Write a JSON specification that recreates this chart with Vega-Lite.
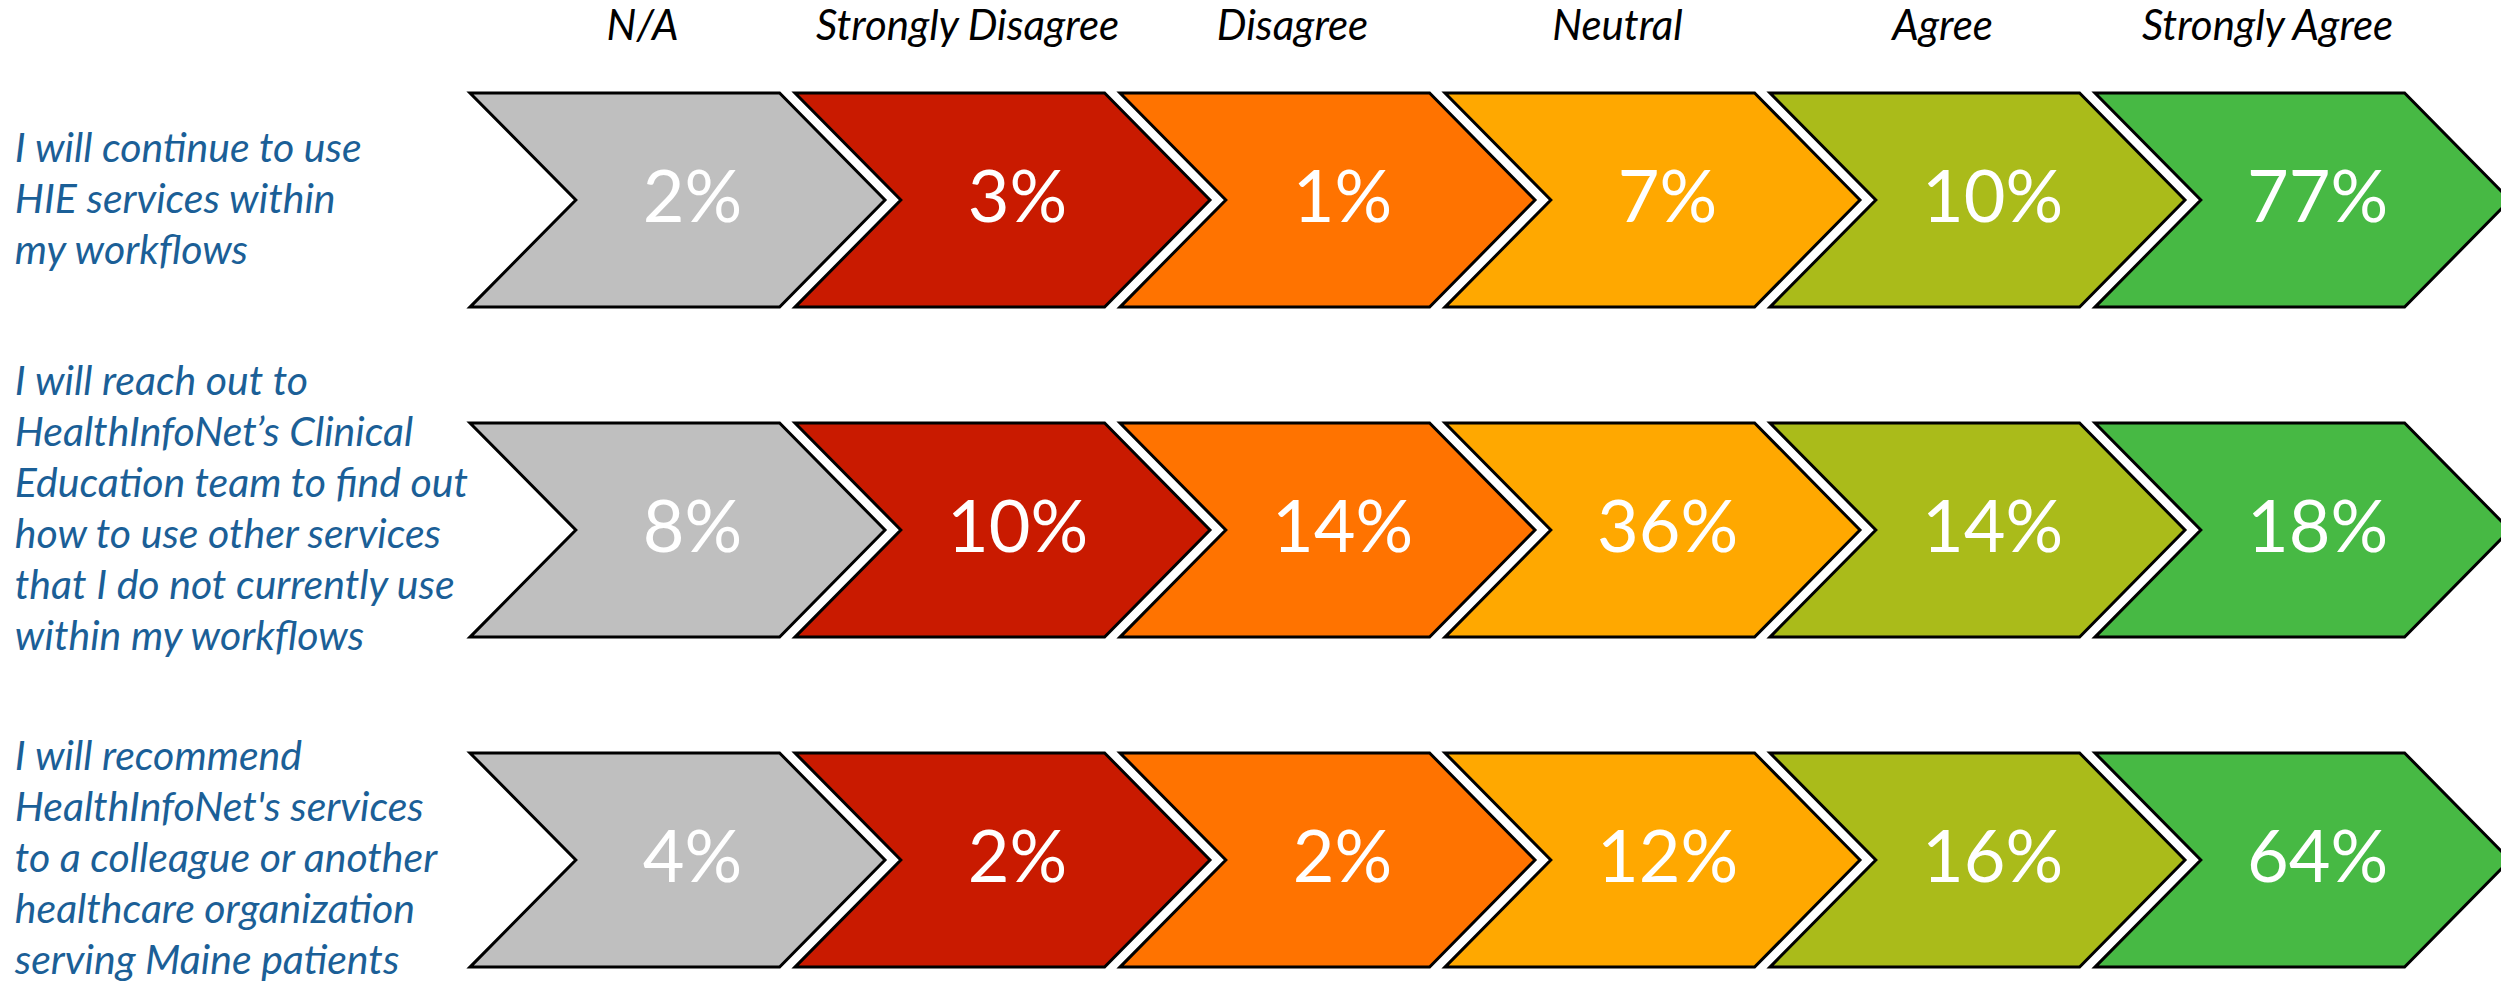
{
  "$schema": "https://vega.github.io/schema/vega-lite/v6.json",
  "width": 2501,
  "height": 982,
  "autosize": {"type": "none"},
  "padding": 0,
  "background": "white",
  "config": {"view": {"stroke": null}},
  "datasets": {
    "cells": [
      {"row": 1, "col": 0, "resp": "N/A", "pct": "2%"},
      {"row": 1, "col": 1, "resp": "Strongly Disagree", "pct": "3%"},
      {"row": 1, "col": 2, "resp": "Disagree", "pct": "1%"},
      {"row": 1, "col": 3, "resp": "Neutral", "pct": "7%"},
      {"row": 1, "col": 4, "resp": "Agree", "pct": "10%"},
      {"row": 1, "col": 5, "resp": "Strongly Agree", "pct": "77%"},
      {"row": 2, "col": 0, "resp": "N/A", "pct": "8%"},
      {"row": 2, "col": 1, "resp": "Strongly Disagree", "pct": "10%"},
      {"row": 2, "col": 2, "resp": "Disagree", "pct": "14%"},
      {"row": 2, "col": 3, "resp": "Neutral", "pct": "36%"},
      {"row": 2, "col": 4, "resp": "Agree", "pct": "14%"},
      {"row": 2, "col": 5, "resp": "Strongly Agree", "pct": "18%"},
      {"row": 3, "col": 0, "resp": "N/A", "pct": "4%"},
      {"row": 3, "col": 1, "resp": "Strongly Disagree", "pct": "2%"},
      {"row": 3, "col": 2, "resp": "Disagree", "pct": "2%"},
      {"row": 3, "col": 3, "resp": "Neutral", "pct": "12%"},
      {"row": 3, "col": 4, "resp": "Agree", "pct": "16%"},
      {"row": 3, "col": 5, "resp": "Strongly Agree", "pct": "64%"}
    ],
    "rows": [
      {"row": 1, "label": "I will continue to use\nHIE services within\nmy workflows"},
      {"row": 2, "label": "I will reach out to\nHealthInfoNet’s Clinical\nEducation team to find out\nhow to use other services\nthat I do not currently use\nwithin my workflows"},
      {"row": 3, "label": "I will recommend\nHealthInfoNet's services\nto a colleague or another\nhealthcare organization\nserving Maine patients"}
    ],
    "headers": [
      {"col": 0, "resp": "N/A"},
      {"col": 1, "resp": "Strongly Disagree"},
      {"col": 2, "resp": "Disagree"},
      {"col": 3, "resp": "Neutral"},
      {"col": 4, "resp": "Agree"},
      {"col": 5, "resp": "Strongly Agree"}
    ]
  },
  "layer": [
    {
      "data": {"name": "cells"},
      "mark": {
        "type": "point",
        "shape": "M -1 -0.516 L 0.492 -0.516 L 1 0 L 0.492 0.516 L -1 0.516 L -0.49 0 Z",
        "size": 172225,
        "filled": true,
        "opacity": 1,
        "stroke": "black",
        "strokeWidth": 3,
        "strokeJoin": "miter"
      },
      "encoding": {
        "x": {"field": "col", "type": "quantitative", "scale": {"domain": [-2.0846, 5.6108], "nice": false, "zero": false}, "axis": null},
        "y": {"field": "row", "type": "quantitative", "scale": {"domain": [0.3939, 3.3697], "reverse": true, "nice": false, "zero": false}, "axis": null},
        "fill": {
          "field": "resp",
          "type": "nominal",
          "scale": {
            "domain": ["N/A", "Strongly Disagree", "Disagree", "Neutral", "Agree", "Strongly Agree"],
            "range": ["#BFBFBF", "#C91A00", "#FF7300", "#FFA800", "#AABB1A", "#47B944"]
          },
          "legend": null
        }
      }
    },
    {
      "data": {"name": "cells"},
      "mark": {"type": "text", "font": "Lato", "fontSize": 72, "color": "white", "dx": 15, "baseline": "middle", "align": "center"},
      "encoding": {
        "x": {"field": "col", "type": "quantitative", "scale": {"domain": [-2.0846, 5.6108], "nice": false, "zero": false}, "axis": null},
        "y": {"field": "row", "type": "quantitative", "scale": {"domain": [0.3939, 3.3697], "reverse": true, "nice": false, "zero": false}, "axis": null},
        "text": {"field": "pct"}
      }
    },
    {
      "data": {"name": "headers"},
      "mark": {"type": "text", "font": "Lato", "fontStyle": "italic", "fontSize": 42, "color": "black", "dx": -35, "baseline": "middle", "align": "center"},
      "encoding": {
        "x": {"field": "col", "type": "quantitative", "scale": {"domain": [-2.0846, 5.6108], "nice": false, "zero": false}, "axis": null},
        "y": {"datum": 0.476, "type": "quantitative", "scale": {"domain": [0.3939, 3.3697], "reverse": true, "nice": false, "zero": false}, "axis": null},
        "text": {"field": "resp"}
      }
    },
    {
      "data": {"name": "rows"},
      "transform": [{"filter": "datum.row == 1"}],
      "mark": {"type": "text", "font": "Lato", "fontStyle": "italic", "fontSize": 41, "color": "#1B5F97", "lineBreak": "\n", "lineHeight": 51, "baseline": "middle", "align": "left"},
      "encoding": {
        "x": {"datum": -2.039, "type": "quantitative", "scale": {"domain": [-2.0846, 5.6108], "nice": false, "zero": false}, "axis": null},
        "y": {"datum": 0.848, "type": "quantitative", "scale": {"domain": [0.3939, 3.3697], "reverse": true, "nice": false, "zero": false}, "axis": null},
        "text": {"field": "label"}
      }
    },
    {
      "data": {"name": "rows"},
      "transform": [{"filter": "datum.row == 2"}],
      "mark": {"type": "text", "font": "Lato", "fontStyle": "italic", "fontSize": 41, "color": "#1B5F97", "lineBreak": "\n", "lineHeight": 51, "baseline": "middle", "align": "left"},
      "encoding": {
        "x": {"datum": -2.039, "type": "quantitative", "scale": {"domain": [-2.0846, 5.6108], "nice": false, "zero": false}, "axis": null},
        "y": {"datum": 1.556, "type": "quantitative", "scale": {"domain": [0.3939, 3.3697], "reverse": true, "nice": false, "zero": false}, "axis": null},
        "text": {"field": "label"}
      }
    },
    {
      "data": {"name": "rows"},
      "transform": [{"filter": "datum.row == 3"}],
      "mark": {"type": "text", "font": "Lato", "fontStyle": "italic", "fontSize": 41, "color": "#1B5F97", "lineBreak": "\n", "lineHeight": 51, "baseline": "middle", "align": "left"},
      "encoding": {
        "x": {"datum": -2.039, "type": "quantitative", "scale": {"domain": [-2.0846, 5.6108], "nice": false, "zero": false}, "axis": null},
        "y": {"datum": 2.691, "type": "quantitative", "scale": {"domain": [0.3939, 3.3697], "reverse": true, "nice": false, "zero": false}, "axis": null},
        "text": {"field": "label"}
      }
    }
  ]
}
